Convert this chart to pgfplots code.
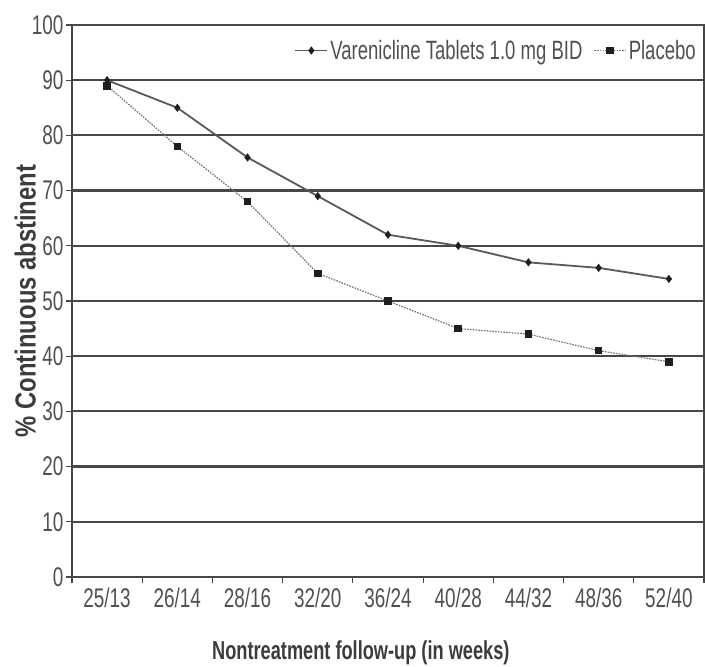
\documentclass[border=0pt]{standalone}
\usepackage{fontspec}
\setmainfont{Liberation Sans}[FakeStretch=0.7]
\newfontfamily\ylabfont{Liberation Sans}[FakeStretch=0.82]
\usepackage{pgfplots}
\pgfplotsset{compat=1.18}
\definecolor{gridc}{HTML}{474747}
\definecolor{txtc}{HTML}{505050}
\definecolor{mkc}{HTML}{1E1E1E}
\begin{document}
\begin{tikzpicture}
\useasboundingbox (0,0) rectangle (705pt,667pt);
\begin{axis}[
  at={(72pt,90pt)}, anchor=south west,
  scale only axis, width=632pt, height=552pt,
  xmin=0, xmax=9, ymin=0, ymax=100,
  xtick={0.5,1.5,...,8.5},
  xticklabels={25/13,26/14,28/16,32/20,36/24,40/28,44/32,48/36,52/40},
  minor xtick={0,1,...,9},
  ytick={0,10,...,100},
  tick pos=left,
  tick align=outside,
  major tick length=6pt, minor tick length=6pt,
  major x tick style={draw=none},
  minor x tick style={draw=gridc, line width=1.2pt},
  major y tick style={draw=gridc, line width=1.2pt},
  ymajorgrids,
  major grid style={draw=gridc, line width=2.2pt},
  axis line style={draw=gridc, line width=1.8pt},
  /pgf/number format/assume math mode=true,
  tick label style={font=\fontsize{27}{30}\selectfont, text=txtc},
  xticklabel style={yshift=-1pt},
  yticklabel style={xshift=1pt},
  xlabel={\textbf{Nontreatment follow-up (in weeks)}},
  ylabel={\ylabfont\textbf{\% Continuous abstinent}},
  xlabel style={font=\fontsize{26}{29}\selectfont, text=txtc!75!black, at={(axis description cs:0.457,-0.137)}, anchor=center},
  ylabel style={font=\fontsize{29}{32}\selectfont, text=txtc!75!black, at={(axis description cs:-0.074,0.5)}, anchor=center, rotate=0},
  legend style={at={(axis description cs:1,1)}, anchor=north east, xshift=-6pt, yshift=-13pt,
    draw=none, fill=none, font=\fontsize{26.5}{29}\selectfont, text=txtc,
    /tikz/every even column/.append style={column sep=9pt}, inner sep=0pt},
  legend columns=2,
  legend image code/.code={\draw[mark repeat=2,mark phase=2,#1] plot coordinates {(0pt,0pt) (16pt,0pt) (32pt,0pt)};},
  clip=false,
]
\addplot[draw=gridc!90!white, line width=1.8pt, mark=diamond*, mark size=3.8pt, mark options={solid, fill=mkc, draw=mkc, line width=0.4pt}]
  coordinates {(0.5,90) (1.5,85) (2.5,76) (3.5,69) (4.5,62) (5.5,60) (6.5,57) (7.5,56) (8.5,54)};
\addlegendentry{Varenicline Tablets 1.0 mg BID}
\addplot[draw=gray!90!black, line width=1.2pt, dash pattern=on 1.6pt off 1.2pt, mark=square*, mark size=3.2pt, mark options={solid, fill=mkc, draw=mkc}]
  coordinates {(0.5,89) (1.5,78) (2.5,68) (3.5,55) (4.5,50) (5.5,45) (6.5,44) (7.5,41) (8.5,39)};
\addlegendentry{Placebo}
\end{axis}
\end{tikzpicture}
\end{document}
